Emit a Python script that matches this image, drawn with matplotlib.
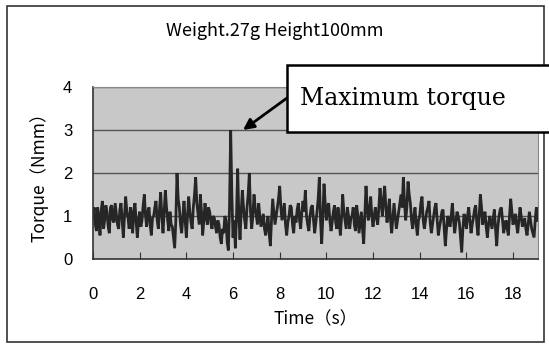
import matplotlib
matplotlib.use("Agg")
import matplotlib.pyplot as plt
from matplotlib.patches import Rectangle

# torque signal, one value every 0.05 s (one row per second)
time_step = 0.05
torque = [
    1.0, 1.2, 0.8, 0.65, 1.2, 0.95, 0.55, 1.1, 1.35, 0.7, 0.9, 1.25, 1.1, 0.75, 0.6, 1.2, 1.25, 0.9, 0.85, 1.3,
    1.05, 0.8, 0.7, 1.15, 1.3, 0.9, 0.5, 1.0, 1.45, 1.1, 0.95, 0.7, 1.2, 1.0, 0.6, 1.15, 1.3, 0.85, 0.5, 0.9,
    1.1, 0.75, 0.9, 1.25, 1.5, 1.0, 0.75, 1.1, 1.2, 0.8, 0.55, 0.95, 1.0, 1.2, 1.35, 0.9, 0.7, 1.15, 1.55, 1.0,
    0.6, 1.1, 1.6, 1.2, 0.9, 0.65, 1.1, 0.8, 0.75, 0.5, 0.25, 0.9, 2.0, 1.4, 1.2, 0.8, 0.6, 1.0, 1.35, 0.9,
    0.5, 1.0, 1.45, 1.1, 0.85, 0.7, 1.2, 1.5, 1.9, 1.3, 1.05, 0.8, 1.5, 1.1, 0.55, 0.9, 1.3, 1.0, 0.8, 1.2,
    1.1, 0.85, 0.7, 1.0, 0.95, 0.75, 0.6, 0.9, 0.8, 0.5, 0.35, 0.7, 0.6, 1.0, 0.9, 0.4, 0.2, 1.2, 3.0, 1.5,
    0.5, 0.9, 0.25, 1.0, 2.1, 1.0, 0.45, 1.1, 1.6, 1.2, 0.9, 0.7, 1.2, 1.5, 2.0, 1.1, 0.7, 1.0, 1.5, 1.2,
    1.0, 0.8, 1.3, 1.0, 0.75, 0.9, 1.05, 0.7, 0.55, 0.8, 1.0, 0.6, 0.3, 0.9, 1.4, 1.1, 0.8, 1.0, 1.2, 1.4,
    1.7, 1.2, 0.9, 1.1, 1.3, 0.8, 0.55, 0.85, 1.0, 1.25, 1.2, 0.8, 0.6, 1.0, 0.85, 1.15, 1.3, 0.9, 0.7, 1.1,
    1.35, 1.1, 1.6, 1.0, 0.8, 0.65, 1.0, 1.2, 1.25, 0.9, 0.6, 0.85, 1.1, 1.4, 1.9, 0.9, 0.35, 1.0, 1.75, 1.3,
    0.9, 1.2, 1.3, 0.9, 0.65, 0.85, 1.1, 1.25, 0.85, 0.7, 1.2, 0.9, 0.55, 0.95, 1.5, 1.1, 0.9, 0.7, 1.2, 1.0,
    0.7, 0.95, 1.0, 1.2, 0.8, 0.65, 1.25, 1.0, 0.6, 0.85, 1.1, 0.7, 0.35, 1.0, 1.7, 1.2, 0.9, 1.15, 1.45, 1.0,
    0.75, 1.0, 1.2, 0.95, 0.8, 1.2, 1.65, 1.3, 1.0, 1.4, 1.7, 1.2, 0.85, 1.1, 1.4, 0.9, 0.6, 0.95, 1.3, 1.0,
    0.7, 0.9, 1.1, 1.3, 1.5, 1.2, 1.9, 1.3, 0.9, 1.2, 1.8, 1.5, 1.3, 0.9, 0.7, 1.0, 1.2, 0.8, 0.55, 0.9,
    1.0, 1.3, 1.45, 0.9, 0.7, 0.9, 1.1, 1.2, 1.35, 0.85, 0.6, 0.8, 1.0, 1.2, 1.3, 0.9, 0.55, 0.75, 0.9, 1.1,
    1.15, 0.7, 0.3, 0.7, 1.0, 0.9, 0.75, 1.0, 1.3, 0.9, 0.6, 0.85, 1.1, 1.0, 0.85, 0.5, 0.15, 0.7, 1.05, 0.9,
    0.7, 1.0, 1.2, 0.9, 0.6, 0.8, 0.95, 1.15, 1.25, 0.8, 0.55, 1.0, 1.5, 1.2, 0.8, 1.0, 1.1, 0.75, 0.5, 0.8,
    1.0, 0.85, 0.7, 0.95, 1.15, 0.7, 0.3, 0.75, 1.0, 1.15, 1.2, 0.9, 0.6, 0.8, 0.9, 0.7, 0.55, 1.0, 1.4, 1.1,
    0.8, 0.95, 1.05, 0.8, 0.6, 0.9, 1.2, 1.0, 0.75, 0.85, 0.95, 0.7, 0.55, 0.8, 1.1, 0.9, 0.7, 0.6, 0.5, 0.9,
    1.2, 0.9,
]
time = [i * time_step for i in range(len(torque))]

x_ticks = [0, 2, 4, 6, 8, 10, 12, 14, 16, 18]
y_ticks = [0, 1, 2, 3, 4]
peak_time = 6.43
peak_value = 3.0

jp = ["Noto Sans CJK JP", "DejaVu Sans"]
W, H = 549, 357

fig = plt.figure(figsize=(W / 100, H / 100), dpi=100)
fig.patch.set_facecolor("white")

# outer frame
fig.patches.append(Rectangle((7 / W, 1 - 342 / H), 537 / W, 336 / H,
                             transform=fig.transFigure, fill=False,
                             edgecolor="#333333", lw=1.2))

ax = fig.add_axes([93 / W, 1 - 259 / H, 445 / W, 172 / H])
ax.set_facecolor("#c8c8c8")
ax.plot(time, torque, color="#262626", lw=2.0, solid_joinstyle="miter")
ax.set_xlim(0, 19.07)
ax.set_ylim(0, 4)
ax.set_xticks(x_ticks)
ax.set_yticks(y_ticks)
ax.grid(True, axis="y", color="#555555", lw=1)
ax.set_axisbelow(True)
for s in ["top", "right"]:
    ax.spines[s].set_color("#888888")
for s in ["left", "bottom"]:
    ax.spines[s].set_color("#333333")
    ax.spines[s].set_linewidth(1.2)
ax.tick_params(axis="x", direction="in", length=5, pad=20, labelsize=12,
               color="#333333")
ax.tick_params(axis="y", length=0, pad=15, labelsize=12)
for lab in ax.get_xticklabels() + ax.get_yticklabels():
    lab.set_family("Liberation Sans")

ax.set_xlabel("Time（s）", family=jp, fontsize=12.5, labelpad=6)
ax.set_ylabel("Torque（Nmm）", family=jp, fontsize=12.5, labelpad=10)
fig.text(0.5, 1 - 31 / H, "Weight.27g Height100mm", family=jp,
         fontsize=13, ha="center", va="center")

# annotation box, runs past the right edge like in the original
fig.patches.append(Rectangle((287 / W, 1 - 132 / H), 280 / W, 67 / H,
                             transform=fig.transFigure, facecolor="white",
                             edgecolor="black", lw=1.8, zorder=5))
fig.text(300 / W, 1 - 99 / H, "Maximum torque", family="DejaVu Serif",
         fontsize=17, ha="left", va="center", zorder=6)
ax.annotate("", xy=(peak_time, peak_value),
            xytext=(287 / W, 1 - 98 / H), textcoords="figure fraction",
            arrowprops=dict(arrowstyle="-|>", color="black", lw=2,
                            mutation_scale=16, shrinkA=0, shrinkB=0),
            annotation_clip=False, zorder=6)

fig.savefig("out.png", dpi=100)
